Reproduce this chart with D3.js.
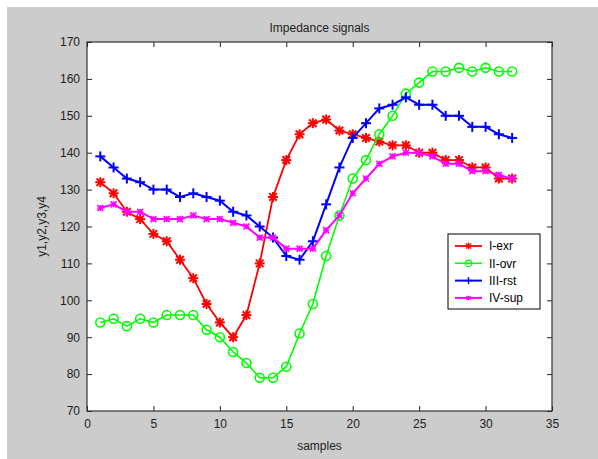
<!DOCTYPE html>
<html>
  <head>
    <meta charset="utf-8">
    <style>
body {
  margin: 0;
  background: #fff;
  font-family: 'Liberation Sans', Arial, sans-serif;
}
.axis text {
  font-size: 12px;
  fill: #222;
}
</style>
    <title>Impedance signals</title>
  </head>
  <body>
    <svg width="598" height="459"></svg>
    <script src="https://d3js.org/d3.v7.min.js"></script>
    <script>
// chart data
var samples = d3.range(1, 33);
var exr = [132,129,124,122,118,116,111,106,99,94,90,96,110,128,138,145,148,149,146,145,144,143,142,142,140,140,138,138,136,136,133,133];
var ovr = [94,95,93,95,94,96,96,96,92,90,86,83,79,79,82,91,99,112,123,133,138,145,150,156,159,162,162,163,162,163,162,162];
var rst = [139,136,133,132,130,130,128,129,128,127,124,123,120,117,112,111,116,126,136,144,148,152,153,155,153,153,150,150,147,147,145,144];
var sup = [125,126,124,124,122,122,122,123,122,122,121,120,117,117,114,114,114,119,123,129,133,137,139,140,140,139,137,137,135,135,134,133];
var xTicks = [0, 5, 10, 15, 20, 25, 30, 35];
var yTicks = [70, 80, 90, 100, 110, 120, 130, 140, 150, 160, 170];

var series = [
  {name: "I-exr", values: exr, color: "#ff0000", marker: "star", width: 1.8},
  {name: "II-ovr", values: ovr, color: "#00ff00", marker: "circle", width: 1.6},
  {name: "III-rst", values: rst, color: "#0000ff", marker: "plus", width: 2},
  {name: "IV-sup", values: sup, color: "#ff00ff", marker: "cross", width: 2}
];

var svg = d3.select("svg"),
    margin = {top: 42, right: 46, bottom: 48, left: 87},
    width = 598 - margin.left - margin.right,
    height = 459 - margin.top - margin.bottom;

// gray figure background
svg.append("rect")
    .attr("x", 7).attr("y", 7)
    .attr("width", 591).attr("height", 452)
    .attr("fill", "#cccccc");

var g = svg.append("g").attr("transform", "translate(" + margin.left + "," + margin.top + ")");

var x = d3.scaleLinear().domain([0, 35]).range([0, width]);
var y = d3.scaleLinear().domain([70, 170]).range([height, 0]);

g.append("rect")
    .attr("width", width)
    .attr("height", height)
    .attr("fill", "#fff");

// axes with inward ticks on all four sides
g.append("g")
    .attr("class", "axis")
    .attr("transform", "translate(0," + height + ")")
    .call(d3.axisBottom(x).tickValues(xTicks).tickSizeInner(-5).tickSizeOuter(0).tickPadding(8))
    .call(function(a) { a.select(".domain").remove(); });

g.append("g")
    .attr("class", "axis")
    .call(d3.axisLeft(y).tickValues(yTicks).tickSizeInner(-5).tickSizeOuter(0).tickPadding(7))
    .call(function(a) { a.select(".domain").remove(); });

g.append("g")
    .call(d3.axisTop(x).tickValues(xTicks).tickSizeInner(-5).tickSizeOuter(0).tickFormat(""))
    .call(function(a) { a.select(".domain").remove(); });

g.append("g")
    .attr("transform", "translate(" + width + ",0)")
    .call(d3.axisRight(y).tickValues(yTicks).tickSizeInner(-5).tickSizeOuter(0).tickFormat(""))
    .call(function(a) { a.select(".domain").remove(); });

g.selectAll(".tick line").attr("stroke", "#222");

g.append("rect")
    .attr("width", width)
    .attr("height", height)
    .attr("fill", "none")
    .attr("stroke", "#333")
    .attr("stroke-width", 1.2);

// markers
function drawMarker(sel, type, color) {
  if (type == "circle") {
    sel.append("circle").attr("r", 4.5).attr("fill", "none")
      .attr("stroke", color).attr("stroke-width", 1.6);
    return;
  }
  var s = type == "cross" ? 3 : 5;
  var segs = [];
  if (type == "plus" || type == "star") segs.push([-s, 0, s, 0], [0, -s, 0, s]);
  if (type == "cross" || type == "star") {
    var d = type == "star" ? s * 0.75 : s;
    segs.push([-d, -d, d, d], [-d, d, d, -d]);
  }
  if (type == "cross") segs.push([-s, 0, s, 0], [0, -s, 0, s]);
  segs.forEach(function(q) {
    sel.append("line")
      .attr("x1", q[0]).attr("y1", q[1]).attr("x2", q[2]).attr("y2", q[3])
      .attr("stroke", color).attr("stroke-width", type == "cross" ? 1.6 : 2);
  });
}

var line = d3.line()
    .x(function(d, i) { return x(samples[i]); })
    .y(function(d) { return y(d); });

series.forEach(function(s) {
  g.append("path")
      .datum(s.values)
      .attr("fill", "none")
      .attr("stroke", s.color)
      .attr("stroke-width", s.width)
      .attr("d", line);

  g.append("g")
    .selectAll("g")
    .data(s.values)
    .enter().append("g")
      .attr("transform", function(d, i) { return "translate(" + x(samples[i]) + "," + y(d) + ")"; })
      .each(function() { drawMarker(d3.select(this), s.marker, s.color); });
});

// labels
svg.append("text")
    .attr("x", margin.left + width / 2)
    .attr("y", 32)
    .attr("text-anchor", "middle")
    .attr("font-size", 12)
    .attr("fill", "#222")
    .text("Impedance signals");

svg.append("text")
    .attr("x", margin.left + width / 2)
    .attr("y", 450)
    .attr("text-anchor", "middle")
    .attr("font-size", 12)
    .attr("fill", "#222")
    .text("samples");

svg.append("text")
    .attr("transform", "translate(46," + (margin.top + height / 2) + ") rotate(-90)")
    .attr("text-anchor", "middle")
    .attr("font-size", 12)
    .attr("fill", "#222")
    .text("y1,y2,y3,y4");

// legend
var legend = svg.append("g").attr("transform", "translate(448,234)");

legend.append("rect")
    .attr("width", 92)
    .attr("height", 75)
    .attr("fill", "#fff")
    .attr("stroke", "#000");

var item = legend.selectAll(".item")
    .data(series)
    .enter().append("g")
      .attr("class", "item")
      .attr("transform", function(d, i) { return "translate(0," + (12 + i * 17.3) + ")"; });

item.append("line")
    .attr("x1", 7).attr("x2", 34)
    .attr("stroke", function(d) { return d.color; })
    .attr("stroke-width", function(d) { return d.width; });

item.each(function(d) {
  var m = d3.select(this).append("g");
  drawMarker(m, d.marker, d.color);
  m.attr("transform", "translate(20.5,0) scale(0.7)");
});

item.append("text")
    .attr("x", 41)
    .attr("dy", "0.36em")
    .attr("font-size", 12)
    .attr("fill", "#000")
    .text(function(d) { return d.name; });
</script>
  </body>
</html>
